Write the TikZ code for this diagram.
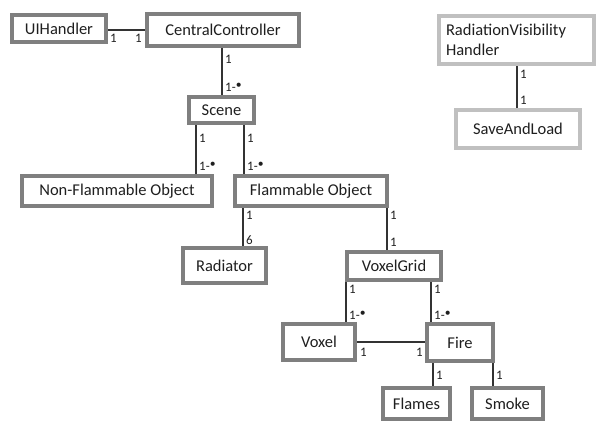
\documentclass[tikz,border=0pt]{standalone}
\usepackage{fontspec}
\setmainfont{Carlito}
\definecolor{dk}{HTML}{7F7F7F}
\definecolor{lt}{HTML}{C0C0C0}
\definecolor{txt}{HTML}{1F1F1F}
\newcommand{\onemany}{1-\raisebox{0.4ex}{\scalebox{0.9}{\textbullet}}}
\begin{document}
\begin{tikzpicture}[x=1pt,y=-1pt,
  cls/.style={draw=dk,line width=4pt,fill=white,rectangle,inner sep=0pt,font=\fontsize{16.5}{20}\selectfont,text=txt},
  lcls/.style={cls,draw=lt},
  conn/.style={draw=black!80,line width=1.2pt},
  mult/.style={font=\fontsize{13}{14}\selectfont,inner sep=0pt,anchor=west,text=txt}]
\useasboundingbox (0,0) rectangle (601,423);
\node[cls,minimum width=94,minimum height=27] (ui) at (59,28.5) {UIHandler};
\node[cls,minimum width=152,minimum height=32] (cc) at (223,30) {CentralController};
\node[cls,minimum width=65,minimum height=26] (sc) at (221.5,110) {Scene};
\node[cls,minimum width=190,minimum height=30] (nf) at (117,191) {Non-Flammable Object};
\node[cls,minimum width=152,minimum height=30] (fo) at (311,191) {Flammable Object};
\node[cls,minimum width=83,minimum height=35] (ra) at (224.5,265.5) {Radiator};
\node[cls,minimum width=94,minimum height=28] (vg) at (394,266) {VoxelGrid};
\node[cls,minimum width=72,minimum height=36] (vx) at (319,342) {Voxel};
\node[cls,minimum width=66,minimum height=37] (fi) at (460,342.5) {Fire};
\node[cls,minimum width=67,minimum height=31] (fl) at (416.5,403.5) {Flames};
\node[cls,minimum width=71,minimum height=31] (sm) at (507.5,403.5) {Smoke};
\node[lcls,minimum width=155,minimum height=48,align=left,text width=141] (rv) at (516.5,40) {RadiationVisibility\\Handler};
\node[lcls,minimum width=124,minimum height=38] (sl) at (518,129) {SaveAndLoad};
% connectors
\coordinate (a1) at ([yshift=-1.5]ui.east);
\draw[conn] (a1) -- (a1 -| cc.west);
\node[mult] at (110,38) {1};
\node[mult] at (135,38) {1};
\coordinate (a2) at ([xshift=-1]cc.south);
\draw[conn] (a2) -- (a2 |- sc.north);
\node[mult] at (225,59) {1};
\node[mult] at (225,87) {\onemany};
\coordinate (a3) at ([xshift=-25.5]sc.south);
\draw[conn] (a3) -- (a3 |- nf.north);
\node[mult] at (199,138) {1};
\node[mult] at (199,166) {\onemany};
\coordinate (a4) at ([xshift=22.5]sc.south);
\draw[conn] (a4) -- (a4 |- fo.north);
\node[mult] at (247,138) {1};
\node[mult] at (247,166) {\onemany};
\coordinate (a5) at ([xshift=-68]fo.south);
\draw[conn] (a5) -- (a5 |- ra.north);
\node[mult] at (246,215) {1};
\node[mult] at (246,240) {6};
\coordinate (a6) at ([xshift=76]fo.south);
\draw[conn] (a6) -- (a6 |- vg.north);
\node[mult] at (390,215) {1};
\node[mult] at (390,242) {1};
\coordinate (a7) at ([xshift=-48]vg.south);
\draw[conn] (a7) -- (a7 |- vx.north);
\node[mult] at (349,289) {1};
\node[mult] at (349,315) {\onemany};
\coordinate (a8) at ([xshift=37]vg.south);
\draw[conn] (a8) -- (a8 |- fi.north);
\node[mult] at (434,289) {1};
\node[mult] at (434,315) {\onemany};
\coordinate (a9) at (vx.east);
\draw[conn] (a9) -- (a9 -| fi.west);
\node[mult] at (360,352) {1};
\node[mult] at (416,352) {1};
\coordinate (a10) at ([xshift=-27]fi.south);
\draw[conn] (a10) -- (a10 |- fl.north);
\node[mult] at (436,375) {1};
\coordinate (a11) at ([xshift=33]fi.south);
\draw[conn] (a11) -- (a11 |- sm.north);
\node[mult] at (496,375) {1};
\coordinate (a12) at ([xshift=0.5]rv.south);
\draw[conn] (a12) -- (a12 |- sl.north);
\node[mult] at (520,74) {1};
\node[mult] at (520,100) {1};
\end{tikzpicture}
\end{document}
